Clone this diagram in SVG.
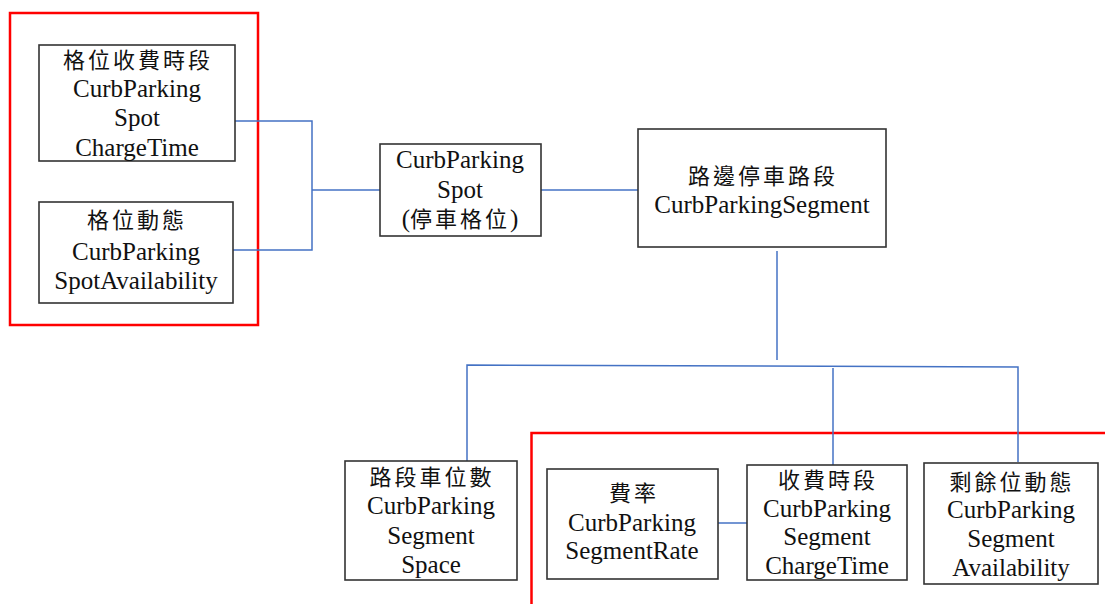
<svg xmlns="http://www.w3.org/2000/svg" width="1105" height="604" viewBox="0 0 1105 604">
<style>
.box{fill:#fff;stroke:#333;stroke-width:1.6}
.red{fill:none;stroke:#ff0000;stroke-width:2.5}
.con{fill:none;stroke:#4472c4;stroke-width:1.5}
text{font-family:"Liberation Serif","Noto Sans CJK TC",serif;font-size:25px;fill:#111;text-anchor:middle}
.zh{font-size:22px;letter-spacing:3px}
</style>
<rect width="1105" height="604" fill="#fff"/>
<g id="frames">
<rect class="red" x="10" y="13" width="248" height="312"/>
<path class="red" d="M531.5,604 V433 H1105"/>
</g>
<g id="connectors">
<path class="con" d="M235,121 H312 V250 H233"/>
<path class="con" d="M312,190 H380"/>
<path class="con" d="M541,190 H638"/>
<path class="con" d="M777,251 V360"/>
<path class="con" d="M467,461 V365 L1018,367 V462"/>
<path class="con" d="M833,368 V465"/>
<path class="con" d="M718,523 H747"/>
</g>
<g id="spotChargeTime">
<rect class="box" x="39" y="45" width="196" height="116"/>
<text class="zh" x="138" y="68">格位收費時段</text>
<text x="137" y="97">CurbParking</text>
<text x="137" y="126">Spot</text>
<text x="137" y="156">ChargeTime</text>
</g>
<g id="spotAvailability">
<rect class="box" x="39" y="202" width="194" height="101"/>
<text class="zh" x="137" y="228">格位動態</text>
<text x="136" y="260">CurbParking</text>
<text x="136" y="289">SpotAvailability</text>
</g>
<g id="spot">
<rect class="box" x="380" y="144" width="161" height="92"/>
<text x="460" y="168">CurbParking</text>
<text x="460" y="198">Spot</text>
<text x="460" y="227">(<tspan class="zh" letter-spacing="1">停車格位</tspan>)</text>
</g>
<g id="segment">
<rect class="box" x="638" y="129" width="248" height="118"/>
<text class="zh" x="763" y="184">路邊停車路段</text>
<text x="762" y="213">CurbParkingSegment</text>
</g>
<g id="segmentSpace">
<rect class="box" x="345" y="461" width="172" height="119"/>
<text class="zh" x="432" y="485">路段車位數</text>
<text x="431" y="514">CurbParking</text>
<text x="431" y="544">Segment</text>
<text x="431" y="573">Space</text>
</g>
<g id="segmentRate">
<rect class="box" x="547" y="469" width="171" height="110"/>
<text class="zh" x="634" y="501">費率</text>
<text x="632" y="531">CurbParking</text>
<text x="632" y="559">SegmentRate</text>
</g>
<g id="segmentChargeTime">
<rect class="box" x="747" y="465" width="160" height="115"/>
<text class="zh" x="828" y="488">收費時段</text>
<text x="827" y="517">CurbParking</text>
<text x="827" y="545">Segment</text>
<text x="827" y="574">ChargeTime</text>
</g>
<g id="segmentAvailability">
<rect class="box" x="924" y="463" width="174" height="121"/>
<text class="zh" x="1012" y="490">剩餘位動態</text>
<text x="1011" y="518">CurbParking</text>
<text x="1011" y="547">Segment</text>
<text x="1011" y="576">Availability</text>
</g>
</svg>
